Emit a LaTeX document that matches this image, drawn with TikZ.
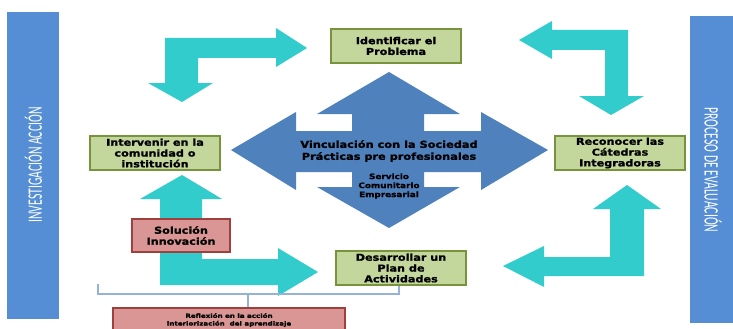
\documentclass[tikz,border=0pt]{standalone}
\usepackage{fontspec}
\usepackage{graphicx}
\newfontfamily\dvfont[FakeStretch=1.18, FakeBold=1.2]{DejaVu Sans Bold}
\newfontfamily\calfont{Carlito}
\definecolor{barblue}{HTML}{558ED5}
\definecolor{quadblue}{HTML}{4F81BD}
\definecolor{cyanarr}{HTML}{33CCCC}
\definecolor{gfill}{HTML}{C3D69B}
\definecolor{gline}{HTML}{77933C}
\definecolor{rfill}{HTML}{D99694}
\definecolor{rline}{HTML}{A0403E}
\definecolor{brk}{HTML}{95B3D7}
\tikzset{
  gbox/.style={draw=gline, fill=gfill, line width=2pt, minimum width=130pt, minimum height=34pt, inner sep=0pt, align=center, font=\dvfont\fontsize{9.5}{10.8}\selectfont},
  rbox/.style={draw=rline, fill=rfill, line width=2pt, inner sep=0pt, align=center},
  cyanshape/.style={fill=cyanarr, draw=none},
  bartext/.style={text=white, font=\calfont\fontsize{11.7}{12}\selectfont, inner sep=0pt},
}
\begin{document}
\begin{tikzpicture}[x=1pt,y=-1pt]
\useasboundingbox (0,0) rectangle (733,329);
\clip (0,0) rectangle (733,329);
% side bars
\fill[barblue] (7,12) rectangle (59,319);
\node[bartext, rotate=90] (lbar) at (33.5,165) {\scalebox{1}[1.75]{INVESTIGACIÓN ACCIÓN}};
\fill[barblue] (690,16) rectangle (735,323);
\node[bartext, rotate=-90] (rbar) at (713,170) {\scalebox{1}[1.75]{PROCESO DE EVALUACIÓN}};
% cyan bent arrows
\fill[cyanshape] (307,48) -- (276,67) -- (276,58) -- (198,58) -- (198,83) -- (213,83) -- (182,102) -- (148,83) -- (165,83) -- (165,38) -- (276,38) -- (276,28) -- cycle;
\fill[cyanshape] (519,40) -- (552,21) -- (552,30) -- (628,30) -- (628,96) -- (644,96) -- (611,115) -- (579,96) -- (605,96) -- (605,50) -- (552,50) -- (552,59) -- cycle;
\fill[cyanshape] (182,175) -- (222,199) -- (202,199) -- (202,259) -- (278,259) -- (278,248) -- (318,272) -- (278,296) -- (278,285) -- (160,285) -- (160,199) -- (140,199) -- cycle;
\fill[cyanshape] (627,185) -- (661,209) -- (644,209) -- (644,276) -- (544,276) -- (544,287) -- (503,266) -- (544,246) -- (544,257) -- (610,257) -- (610,209) -- (593,209) -- cycle;
% quad arrow
\fill[quadblue] (389,72) -- (460,114) -- (424,114) -- (424,131) -- (481,131) -- (481,112) -- (548,150) -- (481,190) -- (481,172) -- (424,172) -- (424,187) -- (460,187) -- (389,228) -- (317,187) -- (352,187) -- (352,172) -- (296,172) -- (296,190) -- (231,150) -- (296,112) -- (296,131) -- (352,131) -- (352,114) -- (317,114) -- cycle;
\node[align=center, inner sep=0pt, font=\dvfont\fontsize{9.6}{12}\selectfont] (vinc) at (389,151) {Vinculación con la Sociedad\\Prácticas pre profesionales};
\node[align=center, inner sep=0pt, font=\dvfont\fontsize{7.5}{9}\selectfont] (serv) at (389,186) {Servicio\\Comunitario\\Empresarial};
% bracket
\coordinate (b1) at (98,284);
\coordinate (b2) at (98,294);
\coordinate (b3) at (399,294);
\coordinate (b4) at (399,285);
\coordinate (bm) at (248,294);
\node[rbox, minimum width=232pt, minimum height=24pt, font=\dvfont\fontsize{6}{7.7}\selectfont] (refl) at (229,320) {Reflexión en la acción\\Interiorización\ \ del aprendizaje};
\draw[brk, line width=1.2pt] (b1) -- (b2) -- (b3) -- (b4);
\draw[brk, line width=1.2pt] (bm) -- (bm |- refl.north);
% green boxes
\node[gbox] (idp) at (396,46) {Identificar el\\Problema};
\node[gbox] (interv) at (155,153) {Intervenir en la\\comunidad o\\institución};
\node[gbox] (recon) at (620,153) {Reconocer las\\Cátedras\\Integradoras};
\node[gbox] (desar) at (401,268) {Desarrollar un\\Plan de\\Actividades};
% red box
\node[rbox, minimum width=98pt, minimum height=33pt, font=\dvfont\fontsize{9.5}{11}\selectfont] (sol) at (181,235.5) {Solución\\Innovación};
\end{tikzpicture}
\end{document}
